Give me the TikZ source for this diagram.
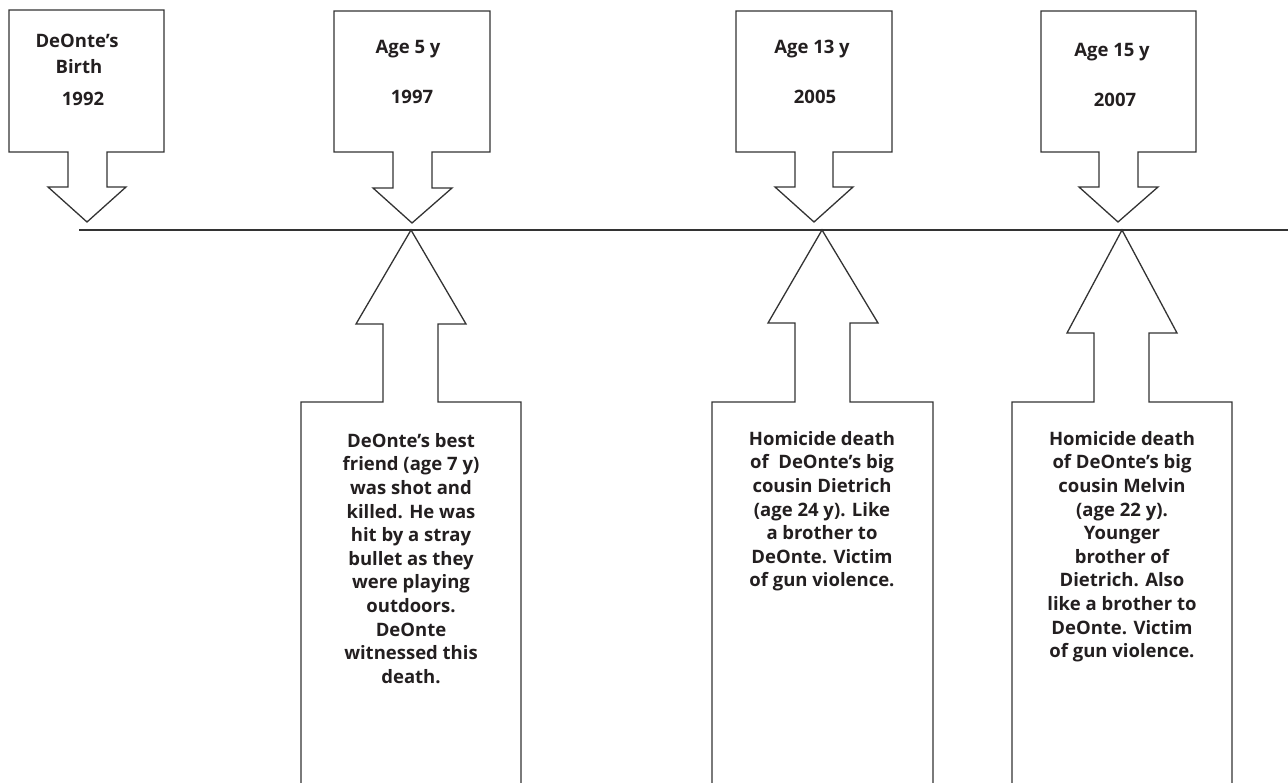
\documentclass[tikz,border=0pt]{standalone}
\usepackage{fontspec}
\setmainfont{Open Sans}
\definecolor{ink}{HTML}{231F20}
\definecolor{edge}{HTML}{333333}
\tikzset{
  shapeline/.style={draw=edge, line width=1.3pt, line join=miter},
  toptext/.style={anchor=base, inner sep=0pt, text=ink, font=\fontsize{18.5}{23.6}\selectfont\bfseries},
  bottext/.style={anchor=north, inner sep=0pt, align=center, text=ink, font=\fontsize{18.5}{23.6}\selectfont\bfseries}
}
\begin{document}
\begin{tikzpicture}[x=1pt,y=-1pt]
\useasboundingbox (0,0) rectangle (1288,783);
% timeline
\coordinate (tl0) at (79,230);
\coordinate (tl1) at (1288,230);
\draw[shapeline] (tl0) -- (tl1);
% top callouts (down arrows)
\draw[shapeline] (9,10) -- (164,10) -- (164,152) -- (107,152) -- (107,187) -- (126,187) -- (87,222) -- (48,187) -- (68,187) -- (68,152) -- (9,152) -- cycle;
\draw[shapeline] (334,11) -- (490,11) -- (490,152) -- (432,152) -- (432,188) -- (452,188) -- (412,223) -- (373,188) -- (393,188) -- (393,152) -- (334,152) -- cycle;
\draw[shapeline] (736,11) -- (892,11) -- (892,152) -- (833,152) -- (833,187) -- (853,187) -- (814,222) -- (775,187) -- (795,187) -- (795,152) -- (736,152) -- cycle;
\draw[shapeline] (1041,11) -- (1196,11) -- (1196,152) -- (1138,152) -- (1138,187) -- (1158,187) -- (1118,222) -- (1079,187) -- (1099,187) -- (1099,152) -- (1041,152) -- cycle;
% top texts
\node[toptext] (b1a) at (77,48) {DeOnte’s};
\node[toptext] (b1b) at (79,74) {Birth};
\node[toptext] (b1c) at (83,106) {1992};
\node[toptext] (b2a) at (408,54) {Age 5 y};
\node[toptext] (b2b) at (412,104) {1997};
\node[toptext] (b3a) at (812,54) {Age 13 y};
\node[toptext] (b3b) at (815,104) {2005};
\node[toptext] (b4a) at (1112,57) {Age 15 y};
\node[toptext] (b4b) at (1115,107) {2007};
% bottom callouts (up arrows)
\draw[shapeline] (301,783) -- (301,402) -- (383,402) -- (383,324) -- (356,324) -- (411,230) -- (466,324) -- (438,324) -- (438,402) -- (521,402) -- (521,783);
\draw[shapeline] (712,783) -- (712,402) -- (795,402) -- (795,323) -- (768,323) -- (822,230) -- (878,323) -- (850,323) -- (850,402) -- (933,402) -- (933,783);
\draw[shapeline] (1012,783) -- (1012,402) -- (1094,402) -- (1094,333) -- (1067,333) -- (1122,230) -- (1177,333) -- (1149,333) -- (1149,402) -- (1232,402) -- (1232,783);
% bottom texts
\node[bottext] (t1) at (411,433) {DeOnte’s best\\friend (age 7 y)\\was shot and\\killed. He was\\hit by a stray\\bullet as they\\were playing\\outdoors.\\DeOnte\\witnessed this\\death.};
\node[bottext] (t2) at (822,431) {Homicide death\\of\ \ DeOnte’s big\\cousin Dietrich\\(age 24 y). Like\\a brother to\\DeOnte. Victim\\of gun violence.};
\node[bottext] (t3) at (1122,431) {Homicide death\\of DeOnte’s big\\cousin Melvin\\(age 22 y).\\Younger\\brother of\\Dietrich. Also\\like a brother to\\DeOnte. Victim\\of gun violence.};
\end{tikzpicture}
\end{document}
